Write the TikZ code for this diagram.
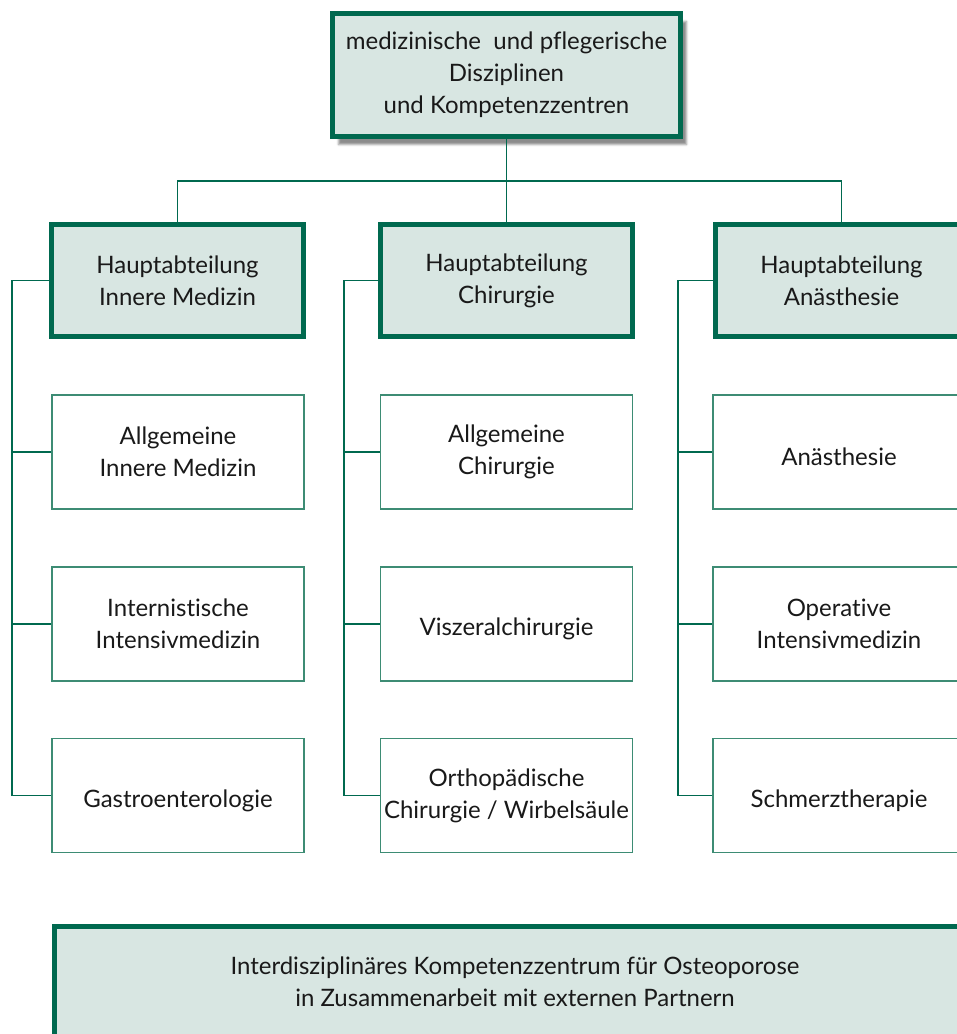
\documentclass[tikz,border=0pt]{standalone}
\usepackage{fontspec}
\setmainfont{Lato}[Ligatures=CommonOff]
\usepackage{tikz}
\usetikzlibrary{shadows.blur}

\definecolor{darkgreen}{HTML}{00694F}
\definecolor{boxgreen}{HTML}{3D8C74}
\definecolor{palegreen}{HTML}{D8E6E2}

\begin{document}
\begin{tikzpicture}[x=1pt, y=1pt, font=\fontsize{24}{32}\selectfont, text=black!90,
  lowered/.style={execute at begin node={\rule{0pt}{28pt}}},
  headbox/.style={rectangle, draw=darkgreen, line width=5pt, fill=palegreen, align=center, inner sep=0pt, lowered},
  unitbox/.style={rectangle, draw=boxgreen, line width=1.3pt, fill=white, align=center, inner sep=0pt, minimum width=252pt, minimum height=114pt, lowered},
  mainbox/.style={headbox, minimum width=252pt, minimum height=112pt},
  link/.style={draw=darkgreen, line width=1.6pt}]
  \useasboundingbox (0,0) rectangle (957,-1034);
  % top
  \node[headbox, minimum width=348pt, minimum height=123pt, blur shadow={shadow xshift=6pt, shadow yshift=-8pt, shadow opacity=45}] (top) at (506.5,-75) {medizinische\ \ und pflegerische\\Disziplinen\\und Kompetenzzentren};
  % Hauptabteilungen
  \node[mainbox] (innere) at (177.5,-280.5) {Hauptabteilung\\Innere Medizin};
  \node[mainbox] (chir) at (506.5,-280.5) {Hauptabteilung\\Chirurgie};
  \node[mainbox] (anae) at (841.5,-280.5) {Hauptabteilung\\Anästhesie};
  \coordinate (bus) at (506.5,-181);
  \draw[link] (top.south) -- (chir.north);
  \draw[link] (innere.north) |- (bus) -| (anae.north);
  % Innere Medizin
  \node[unitbox] (allgim) at (178,-452) {Allgemeine\\Innere Medizin};
  \node[unitbox] (intim) at (178,-624) {Internistische\\Intensivmedizin};
  \node[unitbox] (gastro) at (178,-795.5) {Gastroenterologie};
  % Chirurgie
  \node[unitbox] (allgch) at (506.5,-452) {Allgemeine\\Chirurgie};
  \node[unitbox] (visz) at (506.5,-624) {Viszeralchirurgie};
  \node[unitbox] (ortho) at (506.5,-795.5) {Orthopädische\\Chirurgie / Wirbelsäule};
  % Anaesthesie
  \node[unitbox] (anaes) at (839,-452) {Anästhesie};
  \node[unitbox] (opint) at (839,-624) {Operative\\Intensivmedizin};
  \node[unitbox] (schmerz) at (839,-795.5) {Schmerztherapie};
  % spines
  \coordinate (innerespine) at ([xshift=-37pt]innere.west);
  \coordinate (chirspine) at ([xshift=-34pt]chir.west);
  \coordinate (anaespine) at ([xshift=-35pt]anae.west);
  \draw[link] (innere.west) -- (innerespine) |- (gastro.west);
  \draw[link] (innerespine) |- (allgim.west);
  \draw[link] (innerespine) |- (intim.west);
  \draw[link] (chir.west) -- (chirspine) |- (ortho.west);
  \draw[link] (chirspine) |- (allgch.west);
  \draw[link] (chirspine) |- (visz.west);
  \draw[link] (anae.west) -- (anaespine) |- (schmerz.west);
  \draw[link] (anaespine) |- (anaes.west);
  \draw[link] (anaespine) |- (opint.west);
  % Kompetenzzentrum
  \node[headbox, minimum width=930pt, minimum height=130pt, anchor=north west] (osteo) at (51.5,-923.5) {};
  \node[align=center] (osteotext) at (515,-982) {Interdisziplinäres Kompetenzzentrum für Osteoporose\\in Zusammenarbeit mit externen Partnern};
\end{tikzpicture}
\end{document}
